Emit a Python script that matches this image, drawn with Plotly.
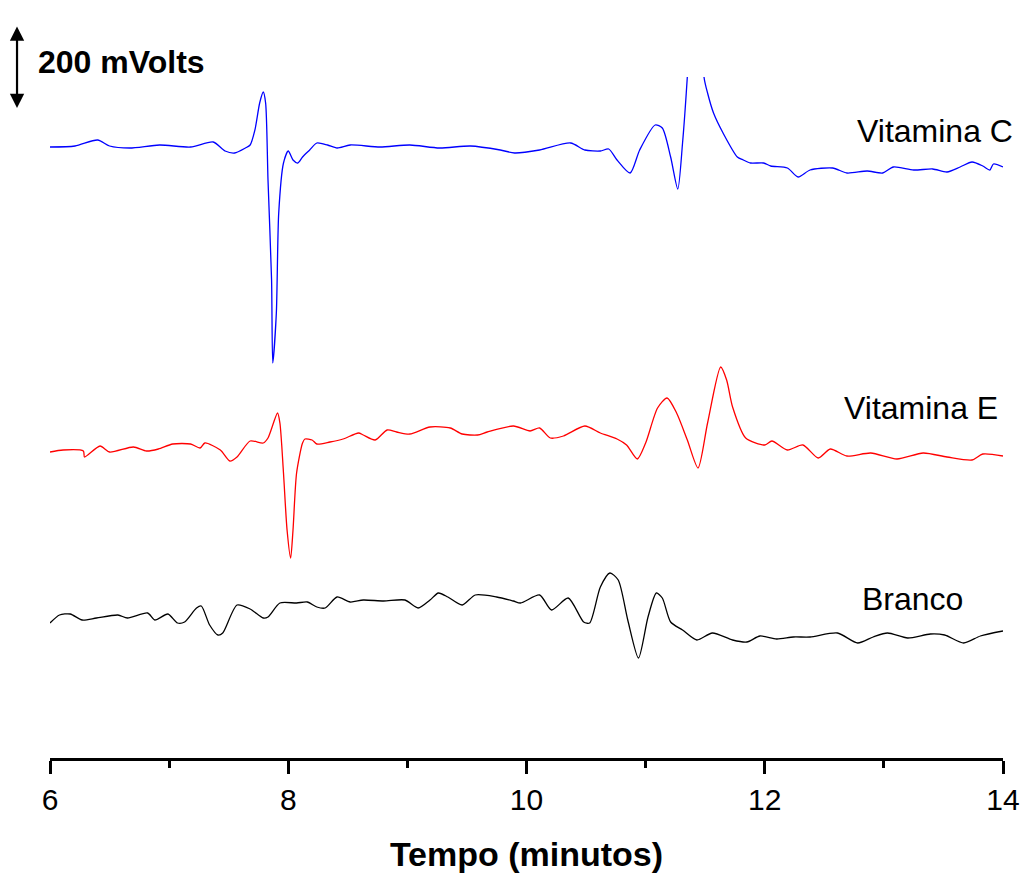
import plotly.graph_objects as go

# ---- data (time in minutes, signal in mV relative to each trace's baseline) ----
vitc_t = [6.00, 6.21, 6.40, 6.50, 6.67, 6.92, 7.18, 7.37, 7.47, 7.55, 7.64, 7.68, 7.72, 7.76, 7.79,
          7.81, 7.83, 7.86, 7.87, 7.90, 7.92, 7.96, 8.00, 8.04, 8.08, 8.12, 8.18, 8.24, 8.33, 8.41,
          8.52, 8.77, 9.02, 9.27, 9.53, 9.78, 9.90, 10.11, 10.37, 10.49, 10.62, 10.69, 10.76, 10.87,
          10.95, 11.08, 11.14, 11.21, 11.27, 11.31, 11.35, 11.45, 11.49, 11.52, 11.57, 11.65, 11.77,
          11.82, 11.88, 11.99, 12.05, 12.19, 12.28, 12.38, 12.57, 12.69, 12.86, 12.99, 13.08, 13.25,
          13.41, 13.53, 13.64, 13.74, 13.83, 13.89, 13.92, 14.00]
vitc_v = [0, 2.5, 17.5, 2.5, -2.5, 5, 0, 12.5, -10, -15, -2.5, 5, 42.5, 110, 137.5,
          110, -82.5, -332.5, -540, -415, -165, -40, -10, -32.5, -40, -25, -7.5, 10, 5, -2.5,
          5, 0, 5, -2.5, 2.5, -7.5, -15, -7.5, 10, -7.5, -10, -5, -32.5, -65,
          -7.5, 55, 47.5, -25, -105, 10, 175, 700, 175, 135, 85, 35, -25,
          -32.5, -40, -40, -47.5, -52.5, -75, -57.5, -52.5, -65, -60, -65, -50, -57.5,
          -55, -62.5, -50, -37.5, -47.5, -57.5, -42.5, -50]

vite_t = [6.00, 6.11, 6.28, 6.29, 6.42, 6.50, 6.70, 6.81, 6.91, 7.03, 7.18, 7.26, 7.30, 7.43, 7.51,
          7.57, 7.68, 7.79, 7.83, 7.91, 7.93, 7.96, 7.99, 8.02, 8.04, 8.07, 8.12, 8.14, 8.20, 8.24,
          8.35, 8.46, 8.59, 8.63, 8.73, 8.83, 8.91, 9.02, 9.19, 9.36, 9.46, 9.59, 9.67, 9.89, 10.03,
          10.11, 10.20, 10.31, 10.49, 10.62, 10.76, 10.84, 10.93, 11.00, 11.10, 11.18, 11.26, 11.35,
          11.44, 11.52, 11.63, 11.68, 11.73, 11.84, 12.00, 12.06, 12.19, 12.32, 12.45, 12.55, 12.69,
          12.89, 13.11, 13.33, 13.53, 13.74, 13.83, 14.00]
vite_v = [0, 5, 2.5, -12.5, 15, 0, 12.5, 2.5, 7.5, 20, 20, 10, 22.5, 5, -22.5,
          -12.5, 27.5, 22.5, 35, 97.5, 72.5, -52.5, -195, -265, -195, -52.5, 22.5, 32.5, 30, 20,
          25, 32.5, 47.5, 42.5, 30, 55, 50, 45, 62.5, 60, 45, 42.5, 50, 65, 52.5,
          60, 35, 40, 65, 47.5, 32.5, 17.5, -17.5, 22.5, 110, 135, 97.5, 30,
          -40, 72.5, 212.5, 180, 112.5, 35, 17.5, 27.5, 5, 17.5, -15, 7.5, -10,
          -2.5, -17.5, -2.5, -12.5, -20, -5, -10]

branco_t = [6.00, 6.08, 6.17, 6.27, 6.39, 6.57, 6.65, 6.82, 6.88, 6.99, 7.07, 7.13, 7.23, 7.27, 7.34,
            7.41, 7.45, 7.57, 7.68, 7.79, 7.83, 7.93, 8.07, 8.16, 8.24, 8.31, 8.41, 8.52, 8.63, 8.80,
            8.98, 9.09, 9.19, 9.26, 9.34, 9.46, 9.57, 9.75, 9.89, 9.95, 10.11, 10.21, 10.35, 10.48,
            10.53, 10.62, 10.70, 10.77, 10.85, 10.94, 11.02, 11.09, 11.14, 11.21, 11.31, 11.43, 11.56,
            11.73, 11.85, 11.96, 12.10, 12.24, 12.38, 12.61, 12.78, 12.91, 13.03, 13.20, 13.39, 13.51,
            13.67, 13.81, 14.00]
branco_v = [0, 20, 22.5, 7.5, 12.5, 20, 12.5, 25, 7.5, 22.5, 0, 2.5, 37.5, 42.5, -5,
            -30, -25, 45, 35, 12.5, 15, 50, 50, 52.5, 40, 37.5, 65, 52.5, 57.5, 55,
            57.5, 37.5, 57.5, 75, 65, 45, 70, 65, 55, 50, 70, 32.5, 62.5, 2.5,
            0, 90, 125, 107.5, 7.5, -87.5, 15, 75, 62.5, 2.5, -17.5, -42.5, -25,
            -42.5, -47.5, -32.5, -40, -35, -35, -25, -50, -35, -25, -37.5, -27.5, -30,
            -50, -32.5, -20]

names = ["Vitamina C", "Vitamina E", "Branco"]
offsets = [1527.5, 765, 337.5]          # vertical stacking offsets (mV)
colors = ["#0000FF", "#FF0000", "#000000"]
label_y = [1567.5, 875, 397.5]
label_x = [1.0125, 0.9969, 0.960]

x_ticks = [6, 8, 10, 12, 14]
scale_bar_mv = 200

FONT = "Liberation Sans, Arial, sans-serif"

fig = go.Figure()
series = [(vitc_t, vitc_v), (vite_t, vite_v), (branco_t, branco_v)]
for (t, v), off, col, nm in zip(series, offsets, colors, names):
    fig.add_trace(go.Scatter(x=t, y=[vi + off for vi in v], mode="lines",
                             line=dict(color=col, width=1.3, shape="spline", smoothing=0.7),
                             name=nm, showlegend=False))

for nm, lx, ly in zip(names, label_x, label_y):
    fig.add_annotation(x=lx, xref="paper", y=ly, yref="y", text=nm, showarrow=False,
                       xanchor="right", yanchor="middle",
                       font=dict(family=FONT, size=32, color="black"))

# scale bar (200 mV)
y_range = [0, 1702.5]
plot_h_px = 681
mv_per_px = (y_range[1] - y_range[0]) / plot_h_px
bar_px = scale_bar_mv / mv_per_px
top_paper = 1 + (77 - 25) / plot_h_px
bot_paper = top_paper - (bar_px + 3) / plot_h_px
fig.add_annotation(x=-0.0346, xref="paper", y=bot_paper, yref="paper",
                   ax=0, ay=-(bar_px + 3), axref="pixel", ayref="pixel",
                   text="", showarrow=True, arrowhead=2, arrowside="end+start",
                   arrowsize=1.3, arrowwidth=2.2, arrowcolor="black", standoff=0, startstandoff=0)
fig.add_annotation(x=-0.0150, xref="paper", y=(top_paper + bot_paper) / 2 + 0.006, yref="paper",
                   text="<b>%d mVolts</b>" % scale_bar_mv, showarrow=False,
                   xanchor="left", yanchor="middle",
                   font=dict(family=FONT, size=32, color="black"))

fig.update_layout(
    width=1024, height=873,
    margin=dict(l=50, r=21, t=77, b=115, autoexpand=False),
    paper_bgcolor="white", plot_bgcolor="white",
    font=dict(family=FONT, color="black"),
    xaxis=dict(range=[6, 14], tickvals=x_ticks, ticktext=[str(v) for v in x_ticks],
               automargin=False,
               showline=True, linecolor="black", linewidth=2.5, mirror=False,
               ticks="outside", ticklen=13, tickwidth=2.5, tickcolor="black",
               minor=dict(dtick=1, ticks="outside", ticklen=7, tickwidth=2.5, tickcolor="black"),
               showgrid=False, zeroline=False,
               tickfont=dict(family=FONT, size=30, color="black"),
               title=dict(text="<b>Tempo (minutos)</b>", standoff=28,
                          font=dict(family=FONT, size=34, color="black"))),
    yaxis=dict(range=y_range, visible=False, showgrid=False, zeroline=False, automargin=False),
)

fig.write_html("out.html")
